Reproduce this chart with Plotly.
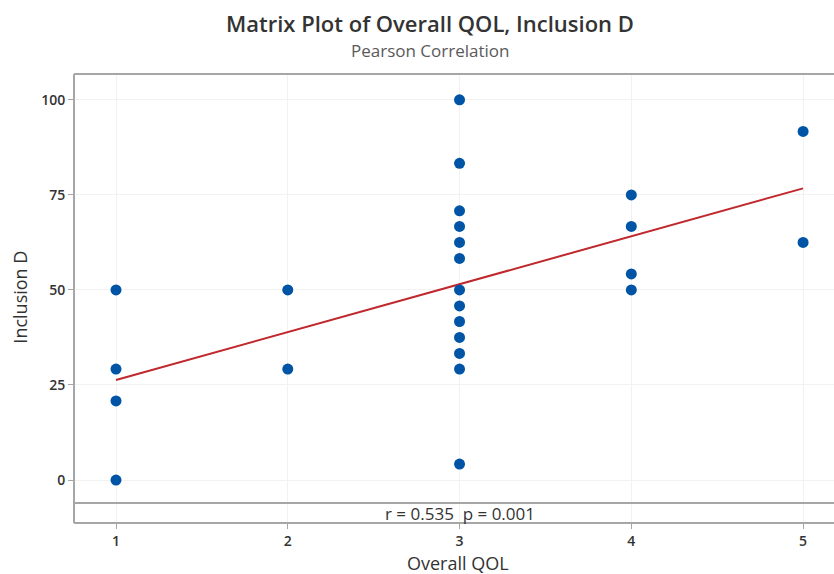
import numpy as np
import plotly.graph_objects as go

# Data
overall_qol = [1, 1, 1, 1,
               2, 2,
               3, 3, 3, 3, 3, 3, 3, 3, 3, 3, 3, 3, 3,
               4, 4, 4, 4,
               5, 5]
inclusion_d = [50, 29.2, 20.8, 0,
               50, 29.2,
               100, 83.3, 70.8, 66.7, 62.5, 58.3, 50, 45.8, 41.7, 37.5, 33.3, 29.2, 4.2,
               75, 66.7, 54.2, 50,
               91.7, 62.5]
x_ticks = [1, 2, 3, 4, 5]
y_ticks = [0, 25, 50, 75, 100]
title_text = "Matrix Plot of Overall QOL, Inclusion D"
subtitle_text = "Pearson Correlation"
x_title = "Overall QOL"
y_title = "Inclusion D"
stat_text = "r = 0.535  p = 0.001"

# Least-squares fit line
slope, intercept = np.polyfit(overall_qol, inclusion_d, 1)
fit_x = np.array([min(overall_qol), max(overall_qol)])
fit_y = intercept + slope * fit_x

FONT = "Open Sans, Noto Sans, sans-serif"
TXT = "#333333"
AXC = "#a6a6a6"

fig = go.Figure()
fig.add_trace(go.Scatter(x=fit_x, y=fit_y, mode="lines",
                         line=dict(color="#c0282d", width=2), hoverinfo="skip"))
fig.add_trace(go.Scatter(x=overall_qol, y=inclusion_d, mode="markers",
                         marker=dict(color="#0054a6", size=11, line=dict(width=0))))

strip_top = -6.05
y_min = -11.3
fig.add_shape(type="rect", xref="paper", yref="y", x0=0.002, x1=1, y0=y_min, y1=strip_top,
              fillcolor="white", line=dict(width=0), layer="between")
fig.add_shape(type="line", xref="paper", yref="y", x0=0, x1=1, y0=strip_top, y1=strip_top,
              line=dict(color=AXC, width=2), layer="above")
# frame: left, top, bottom lines (no right edge visible in reference)
fig.add_shape(type="line", xref="paper", yref="paper", x0=0, x1=0, y0=0, y1=1,
              line=dict(color=AXC, width=2), layer="above")
fig.add_shape(type="line", xref="paper", yref="paper", x0=0, x1=1, y0=1, y1=1,
              line=dict(color=AXC, width=2), layer="above")
fig.add_shape(type="line", xref="paper", yref="paper", x0=0, x1=1, y0=0, y1=0,
              line=dict(color=AXC, width=2), layer="above")
fig.add_annotation(x=3, y=(strip_top + y_min) / 2, xref="x", yref="y", text=stat_text,
                   showarrow=False, font=dict(family=FONT, size=17, color=TXT))

# titles as annotations
fig.add_annotation(x=0.469, y=1.114, xref="paper", yref="paper", text=title_text,
                   showarrow=False, xanchor="center", yanchor="middle",
                   font=dict(family=FONT, size=22, color="#333333", weight=600))
fig.add_annotation(x=0.469, y=1.053, xref="paper", yref="paper", text=subtitle_text,
                   showarrow=False, xanchor="center", yanchor="middle",
                   font=dict(family=FONT, size=17, color="#5a5a5a"))
fig.add_annotation(x=0.505, y=-0.090, xref="paper", yref="paper", text=x_title,
                   showarrow=False, xanchor="center", yanchor="middle",
                   font=dict(family=FONT, size=18, color=TXT))
fig.add_annotation(x=-0.071, y=0.502, xref="paper", yref="paper", text=y_title,
                   showarrow=False, xanchor="center", yanchor="middle", textangle=-90,
                   font=dict(family=FONT, size=18, color=TXT))

fig.update_layout(
    width=834, height=574,
    margin=dict(l=74, r=0, t=74, b=51, autoexpand=False),
    plot_bgcolor="white", paper_bgcolor="white",
    showlegend=False,
    font=dict(family=FONT, color=TXT),
)
fig.update_xaxes(range=[0.7555, 5.18], tickvals=x_ticks, ticktext=[str(v) for v in x_ticks],
                 showgrid=True, gridcolor="#f2f2f2", gridwidth=1, zeroline=False,
                 showline=False,
                 ticks="outside", ticklen=5, tickcolor=AXC, automargin=False,
                 tickfont=dict(family=FONT, size=14, color=TXT, weight=600))
fig.update_yaxes(range=[y_min, 106.8], tickvals=y_ticks, ticktext=[str(v) for v in y_ticks],
                 showgrid=True, gridcolor="#f2f2f2", gridwidth=1, zeroline=False,
                 showline=False,
                 ticks="outside", ticklen=5, tickcolor=AXC, automargin=False,
                 tickfont=dict(family=FONT, size=14, color=TXT, weight=600))

fig.write_html("out.html", config={"displayModeBar": False},
               post_script="document.body.style.margin='0px';document.body.style.overflow='hidden';")
